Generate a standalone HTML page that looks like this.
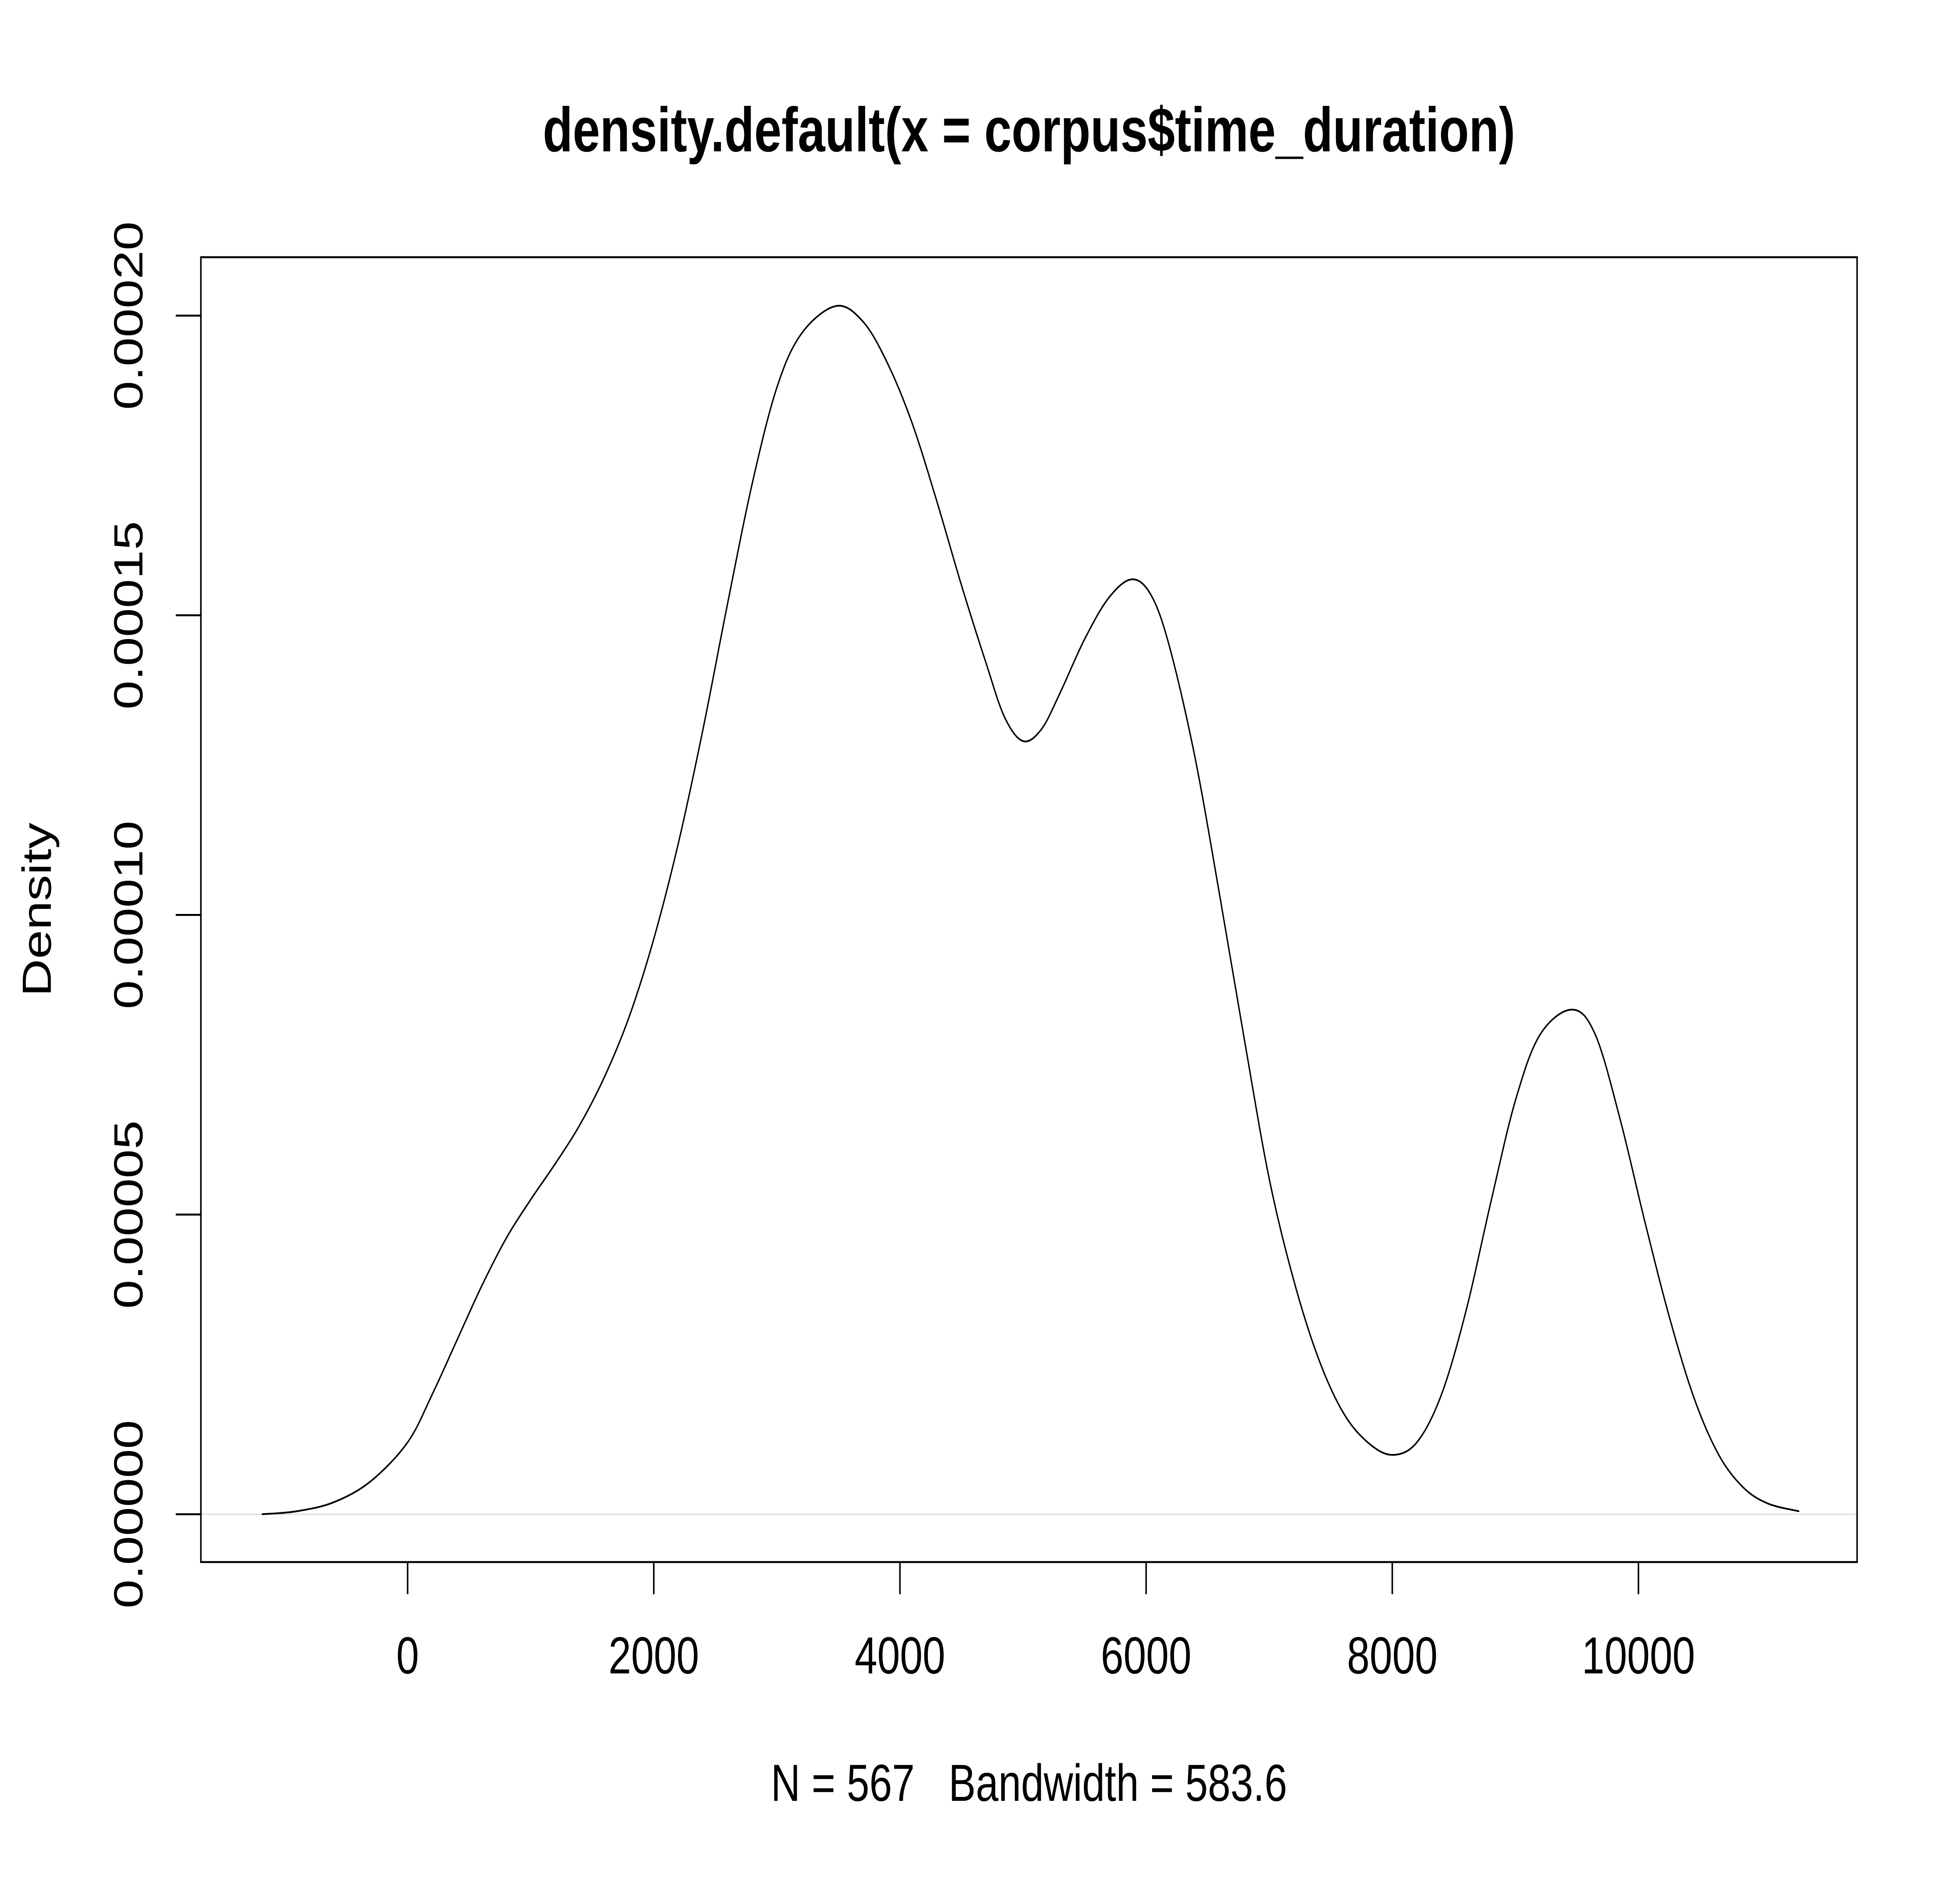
<!DOCTYPE html>
<html><head><meta charset="utf-8"><style>
html,body{margin:0;padding:0;background:#fff;overflow:hidden;width:100%;height:100%}
svg{display:block;width:100vw;height:100vh}
text{font-family:"Liberation Sans",Arial,sans-serif;fill:#000}
</style></head><body>
<svg id="chart" viewBox="0 0 6400 4800" preserveAspectRatio="none" xmlns="http://www.w3.org/2000/svg">
<rect x="0" y="0" width="6400" height="4800" fill="#fff"/>
<text x="3360" y="386" font-size="160" font-weight="bold" text-anchor="middle">density.default(x = corpus$time_duration)</text>
<text x="3360" y="4593" font-size="133" text-anchor="middle" style="white-space:pre">N = 567   Bandwidth = 583.6</text>
<text transform="translate(166,2320) rotate(-90)" font-size="133" text-anchor="middle">Density</text>
<g id="plot"></g>
</svg>
<script>
const xTicks = [0, 2000, 4000, 6000, 8000, 10000];
const xTickLabels = ["0", "2000", "4000", "6000", "8000", "10000"];
const yTicks = [0, 0.00005, 0.0001, 0.00015, 0.0002];
const yTickLabels = ["0.00000", "0.00005", "0.00010", "0.00015", "0.00020"];
const densityX = [-1180,-900,-600,-300,0,200,400,600,800,1000,1200,1400,1600,1800,2000,2200,2400,2600,2800,3000,3200,3480,3700,3900,4100,4300,4500,4700,4850,5000,5150,5300,5500,5700,5890,6050,6200,6400,6600,6800,7000,7200,7400,7600,7800,8000,8200,8400,8600,8800,9000,9200,9460,9650,9850,10050,10250,10450,10650,10850,11050,11302];
const densityY = [0,0.05,0.2,0.55,1.2,2.0,2.9,3.8,4.6,5.25,5.85,6.5,7.3,8.3,9.6,11.2,13.1,15.2,17.2,18.8,19.7,20.16,19.9,19.2,18.2,16.9,15.5,14.2,13.3,12.9,13.1,13.7,14.6,15.3,15.6,15.3,14.4,12.6,10.3,7.9,5.6,3.9,2.6,1.7,1.2,0.99,1.2,2.0,3.4,5.2,6.9,8.0,8.42,8.0,6.6,4.9,3.3,1.95,1.0,0.45,0.18,0.05].map(v => v * 1e-5);

const L = 656, R = 6064, T = 656, B = 3984;
const xScale = v => 1331 + (v - 0) * (5350 - 1331) / 10000;
const yScale = v => 3862 - v * (3862 - 805) / 0.0002;
const NS = "http://www.w3.org/2000/svg";
const g = document.getElementById("plot");
function mk(tag, attrs) { const e = document.createElementNS(NS, tag); for (const k in attrs) e.setAttribute(k, attrs[k]); g.appendChild(e); return e; }

let e = mk("line", {x1: L, x2: R, y1: yScale(0), y2: yScale(0), stroke: "#dcdcdc", "stroke-width": 3});



const pts = densityX.map((x, i) => [xScale(x), yScale(densityY[i])]);
let d = "M" + pts[0][0] + "," + pts[0][1];
for (let i = 0; i < pts.length - 1; i++) {
  const p0 = pts[Math.max(i - 1, 0)], p1 = pts[i], p2 = pts[i + 1], p3 = pts[Math.min(i + 2, pts.length - 1)];
  const c1 = [p1[0] + (p2[0] - p0[0]) / 6, p1[1] + (p2[1] - p0[1]) / 6];
  const c2 = [p2[0] - (p3[0] - p1[0]) / 6, p2[1] - (p3[1] - p1[1]) / 6];
  d += " C" + c1[0] + "," + c1[1] + " " + c2[0] + "," + c2[1] + " " + p2[0] + "," + p2[1];
}
e = mk("path", {d: d, fill: "none", stroke: "#000", "stroke-width": 4.5, "stroke-linejoin": "round", "stroke-linecap": "round"});



e = mk("rect", {x: L, y: T, width: R - L, height: B - T, fill: "none", stroke: "#000", "stroke-width": 5});



e = mk("line", {x1: xScale(xTicks[0]), x2: xScale(xTicks[xTicks.length - 1]), y1: B, y2: B, stroke: "#000", "stroke-width": 5});


xTicks.forEach((v, i) => {
  const x = xScale(v);
  let t = mk("line", {x1: x, x2: x, y1: B, y2: B + 82, stroke: "#000", "stroke-width": 5});
  
  
  let lb = mk("text", {x: x, y: 4268, "font-size": 133, "text-anchor": "middle"});
  lb.textContent = xTickLabels[i];
  
  
});
e = mk("line", {x1: L, x2: L, y1: yScale(yTicks[0]), y2: yScale(yTicks[yTicks.length - 1]), stroke: "#000", "stroke-width": 5});


yTicks.forEach((v, i) => {
  const y = yScale(v);
  let t = mk("line", {x1: L - 82, x2: L, y1: y, y2: y, stroke: "#000", "stroke-width": 5});
  
  
  let lb = mk("text", {transform: "translate(465," + y + ") rotate(-90)", "font-size": 133, "text-anchor": "middle"});
  lb.textContent = yTickLabels[i];
  
  
});
</script>
</body></html>
